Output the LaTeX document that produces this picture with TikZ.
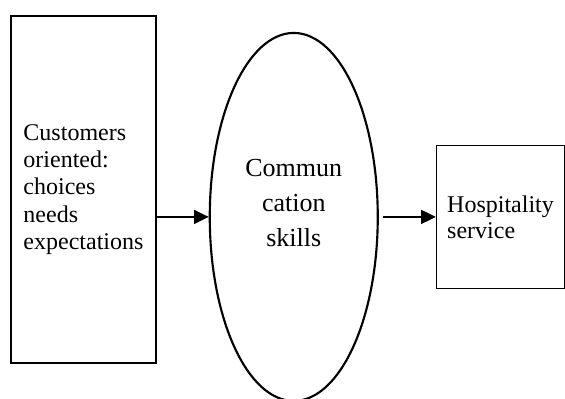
\documentclass[tikz,border=0pt]{standalone}
\usepackage{fontspec}
\setmainfont{Liberation Serif}
\usetikzlibrary{shapes.geometric,positioning,arrows.meta}

\tikzstyle{inputbox}=[rectangle, draw=black, line width=1.1pt, minimum width=108.75pt, minimum height=260.25pt, align=left, font=\fontsize{18}{20.5}\selectfont]
\tikzstyle{skillsoval}=[ellipse, draw=black, line width=1.6pt, minimum width=126pt, minimum height=276pt, inner sep=0pt]
\tikzstyle{skillstext}=[align=center, font=\fontsize{19.5}{26.25}\selectfont]
\tikzstyle{outputbox}=[rectangle, draw=black, line width=1.1pt, minimum width=96pt, minimum height=107.25pt, align=left, font=\fontsize{18}{19.5}\selectfont]
\tikzstyle{arrow}=[line width=1.1pt, -{Triangle[length=11pt, width=10.5pt]}]

\begin{document}
\begin{tikzpicture}

\useasboundingbox (0,0) rectangle (423.75pt,-299.25pt);

\node(cust)[inputbox] at (62.6pt,-142.1pt){Customers\\oriented:\\choices\\needs\\expectations};
\node(comm)[skillsoval, right=39pt of cust, yshift=-20.6pt]{};
\node(commtext)[skillstext] at ([yshift=10.5pt]comm.center){Commun\\cation\\skills};
\node(serv)[outputbox, right=42.75pt of comm]{Hospitality\\service};

\draw[arrow](cust.east |- comm.west)--(comm.west);
\draw[arrow]([xshift=3pt]comm.east)--(serv.west);

\end{tikzpicture}
\end{document}
